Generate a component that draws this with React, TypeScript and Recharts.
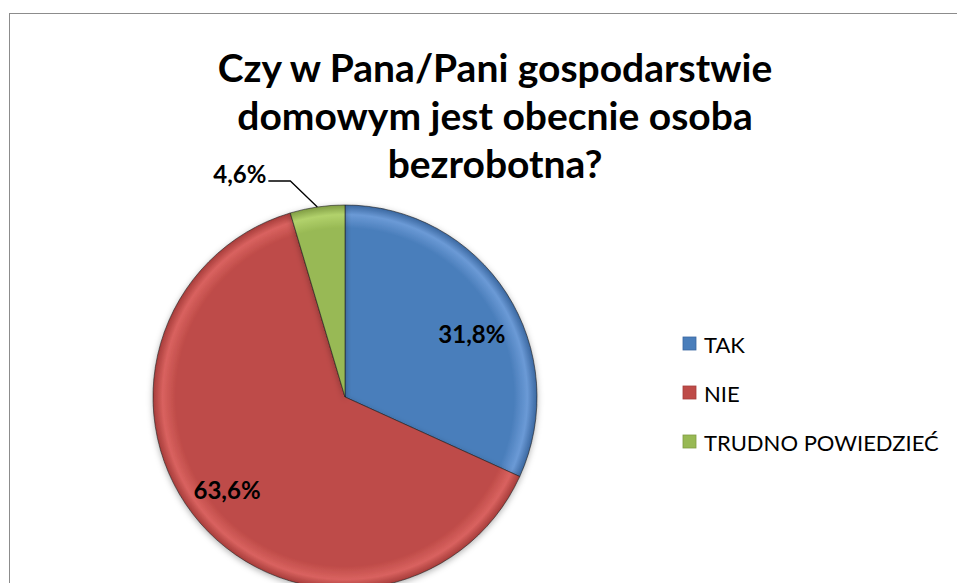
import React from "react";
import { PieChart, Pie, Cell } from "recharts";

const categories = ["TAK", "NIE", "TRUDNO POWIEDZIEĆ"];
const values = [31.8, 63.6, 4.6];
const valueLabels = ["31,8%", "63,6%", "4,6%"];
const titleLines = ["Czy w Pana/Pani gospodarstwie", "domowym jest obecnie osoba", "bezrobotna?"];

const colors = [
  { base: "#4a7ebb", light: "#6b9ad6", dark: "#3a67a0" },
  { base: "#be4b48", light: "#d9625f", dark: "#a63c3a" },
  { base: "#98b954", light: "#b2d26c", dark: "#7f9c43" },
];

const data = categories.map((name, i) => ({ name, value: values[i], label: valueLabels[i] }));

const FONT = "Lato, 'Open Sans', sans-serif";
const RAD = Math.PI / 180;
// best-fit style nudges for the inside labels (angle shift, radius factor)
const labelNudge = [
  { da: -6, rf: 0.74 },
  { da: -3, rf: 0.78 },
];

function renderLabel(props: any) {
  const { cx, cy, midAngle, outerRadius, index } = props;
  if (index === 2) {
    const cos = Math.cos(-midAngle * RAD);
    const sin = Math.sin(-midAngle * RAD);
    const sx = cx + outerRadius * cos;
    const sy = cy + outerRadius * sin;
    const mx = sx - 27;
    const my = sy - 26;
    const ex = mx - 22;
    return (
      <g>
        <polyline points={`${sx},${sy} ${mx},${my} ${ex},${my}`} fill="none" stroke="#000" strokeWidth={1.3} />
        <text x={ex - 2} y={my - 8} textAnchor="end" dominantBaseline="central" fontFamily={FONT} fontWeight={700} fontSize={24} fill="#000">
          {data[index].label}
        </text>
      </g>
    );
  }
  const n = labelNudge[index];
  const a = (midAngle + n.da) * RAD;
  const r = outerRadius * n.rf;
  return (
    <text x={cx + r * Math.cos(-a)} y={cy + r * Math.sin(-a)} textAnchor="middle" dominantBaseline="central" fontFamily={FONT} fontWeight={700} fontSize={24} fill="#000">
      {data[index].label}
    </text>
  );
}

export default function App() {
  return (
    <div style={{ position: "absolute", left: 0, top: 0, width: 957, height: 583, background: "#fff", overflow: "hidden" }}>
      <div style={{ position: "absolute", left: 9, top: 13, width: 1000, height: 700, borderLeft: "1px solid #8c8c8c", borderTop: "1px solid #8c8c8c" }} />
      <div style={{ position: "absolute", left: 0, top: 0 }}>
        <PieChart width={957} height={583} margin={{ top: 0, right: 0, bottom: 0, left: 0 }}>
          <defs>
            {colors.map((c, i) => (
              <radialGradient key={i} id={`slice${i}`} cx={345} cy={397} r={192} gradientUnits="userSpaceOnUse">
                <stop offset="0%" stopColor={c.base} />
                <stop offset="88%" stopColor={c.base} />
                <stop offset="95%" stopColor={c.light} />
                <stop offset="100%" stopColor={c.dark} />
              </radialGradient>
            ))}
            <filter id="shadow" x="-10%" y="-10%" width="120%" height="120%">
              <feDropShadow dx="0" dy="2" stdDeviation="3" floodColor="#000" floodOpacity="0.3" />
            </filter>
          </defs>
          <text textAnchor="middle" fontFamily={FONT} fontWeight={700} fontSize={39} fill="#000">
            {titleLines.map((line, i) => (
              <tspan key={i} x={495} y={82 + i * 48}>
                {line}
              </tspan>
            ))}
          </text>
          <Pie
            data={data}
            dataKey="value"
            nameKey="name"
            cx={345}
            cy={397}
            outerRadius={192}
            startAngle={90}
            endAngle={-270}
            stroke="#1f1f1f"
            strokeWidth={0.6}
            label={renderLabel}
            labelLine={false}
            isAnimationActive={false}
            style={{ filter: "url(#shadow)" }}
          >
            {data.map((d, i) => (
              <Cell key={d.name} fill={`url(#slice${i})`} />
            ))}
          </Pie>
          {categories.map((name, i) => (
            <g key={name}>
              <rect x={683} y={337 + i * 49} width={13} height={13} fill={colors[i].base} stroke={colors[i].dark} strokeWidth={0.8} />
              <text x={704} y={344 + i * 49} dominantBaseline="central" fontFamily={FONT} fontSize={22} fill="#000">
                {name}
              </text>
            </g>
          ))}
        </PieChart>
      </div>
    </div>
  );
}
